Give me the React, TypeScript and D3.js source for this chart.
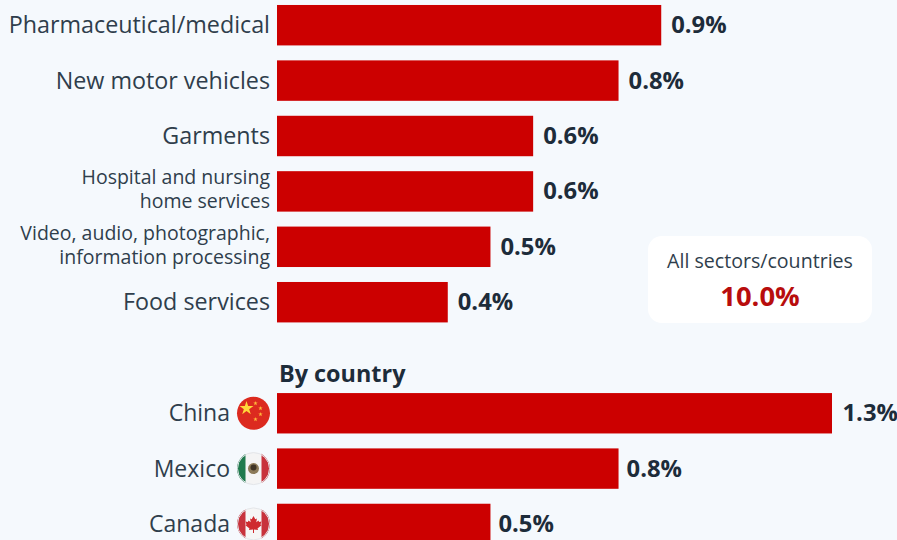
import React from "react";
import * as d3 from "d3";

const width = 897;
const height = 540;

const sectorNames = [
  ["Pharmaceutical/medical"],
  ["New motor vehicles"],
  ["Garments"],
  ["Hospital and nursing", "home services"],
  ["Video, audio, photographic,", "information processing"],
  ["Food services"],
];
const sectorValues = [0.9, 0.8, 0.6, 0.6, 0.5, 0.4];

const countryNames = ["China", "Mexico", "Canada"];
const countryValues = [1.3, 0.8, 0.5];
const countryLabelGaps = [10.5, 8, 8];

const totalLabel = "All sectors/countries";
const totalValue = 10.0;

const RED = "#cc0000";
const DARK = "#1d2c3a";
const TEXT = "#2f3e4c";
const FONT = "'Open Sans', sans-serif";

// Maple leaf outline, centred on the origin.
const MAPLE_LEAF =
  "M0,-8 L1.8,-4.6 L3.4,-5.4 L2.8,-1.6 L5,-3.4 L5.6,-2 L8,-2.4 L7,0.6 L8,1.4 L4,4.6 L4.6,6 L0.5,5.6 L0.5,9 L-0.5,9 L-0.5,5.6 L-4.6,6 L-4,4.6 L-8,1.4 L-7,0.6 L-8,-2.4 L-5.6,-2 L-5,-3.4 L-2.8,-1.6 L-3.4,-5.4 L-1.8,-4.6 Z";

const x = d3.scaleLinear().domain([0, 1.3]).range([277, 832]);
const sectorY = d3
  .scaleBand<number>()
  .domain(d3.range(sectorValues.length))
  .range([-2.5, 329.9])
  .paddingInner(0.27)
  .paddingOuter(0.135);
const countryY = d3
  .scaleBand<number>()
  .domain(d3.range(countryValues.length))
  .range([385.6, 551.6])
  .paddingInner(0.27)
  .paddingOuter(0.135);

const pct = (v: number) => `${v.toFixed(1)}%`;

function FlagChina({ cx, cy }: { cx: number; cy: number }) {
  const star = d3.symbol().type(d3.symbolStar);
  return (
    <g transform={`translate(${cx},${cy})`}>
      <circle r={16.5} fill="#dc2a1f" />
      <path d={star.size(60)() ?? ""} transform="translate(-7,-5)" fill="#ffd83a" />
      {[
        [2, -10],
        [7, -5],
        [7, 1],
        [2, 6],
      ].map(([a, b], i) => (
        <path key={i} d={star.size(6)() ?? ""} transform={`translate(${a},${b})`} fill="#ffb83a" />
      ))}
    </g>
  );
}

function FlagMexico({ cx, cy, clip }: { cx: number; cy: number; clip: string }) {
  return (
    <g transform={`translate(${cx},${cy})`}>
      <clipPath id={clip}>
        <circle r={16.5} />
      </clipPath>
      <g clipPath={`url(#${clip})`}>
        <rect x={-17} y={-17} width={34} height={34} fill="#f4f4f4" />
        <rect x={-17} y={-17} width={9} height={34} fill="#1f7a4d" />
        <rect x={8} y={-17} width={9} height={34} fill="#c8323c" />
        <circle r={5.5} fill="#8c7a58" />
        <circle cy={-1} r={3} fill="#3f3426" />
      </g>
      <circle r={16} fill="none" stroke="#e3e6ea" />
    </g>
  );
}

function FlagCanada({ cx, cy, clip }: { cx: number; cy: number; clip: string }) {
  return (
    <g transform={`translate(${cx},${cy})`}>
      <clipPath id={clip}>
        <circle r={16.5} />
      </clipPath>
      <g clipPath={`url(#${clip})`}>
        <rect x={-17} y={-17} width={34} height={34} fill="#f6f6f6" />
        <rect x={-17} y={-17} width={9} height={34} fill="#c8323c" />
        <rect x={8} y={-17} width={9} height={34} fill="#c8323c" />
        <path d={MAPLE_LEAF} fill="#cf2a2f" />
      </g>
      <circle r={16} fill="none" stroke="#e3e6ea" />
    </g>
  );
}

export default function App() {
  return (
    <svg
      width={width}
      height={height}
      viewBox={`0 0 ${width} ${height}`}
      style={{ position: "fixed", left: 0, top: 0, background: "#f5f9fd", fontFamily: FONT }}
    >
      <rect width={width} height={height} fill="#f5f9fd" />

      {sectorValues.map((v, i) => {
        const top = sectorY(i) ?? 0;
        const mid = top + sectorY.bandwidth() / 2;
        const lines = sectorNames[i];
        return (
          <g key={lines[0]}>
            <rect x={x(0)} y={top} width={x(v) - x(0)} height={sectorY.bandwidth()} fill={RED} />
            {lines.length === 1 ? (
              <text x={270} y={mid + 8} textAnchor="end" fontSize={23.3} fill={TEXT}>
                {lines[0]}
              </text>
            ) : (
              lines.map((l, k) => (
                <text key={l} x={270} y={mid - 7 + k * 24} textAnchor="end" fontSize={19.5} fill={TEXT}>
                  {l}
                </text>
              ))
            )}
            <text x={x(v) + 10} y={mid + 8} fontSize={23.8} fontWeight={700} fill={DARK}>
              {pct(v)}
            </text>
          </g>
        );
      })}

      <text x={279} y={382} fontSize={23.4} fontWeight={700} fill={DARK}>
        By country
      </text>

      {countryValues.map((v, i) => {
        const top = countryY(i) ?? 0;
        const mid = top + countryY.bandwidth() / 2;
        return (
          <g key={countryNames[i]}>
            <rect x={x(0)} y={top} width={x(v) - x(0)} height={countryY.bandwidth()} fill={RED} />
            <text x={230} y={mid + 8} textAnchor="end" fontSize={23} fill={TEXT}>
              {countryNames[i]}
            </text>
            <text x={x(v) + countryLabelGaps[i]} y={mid + 8} fontSize={23.8} fontWeight={700} fill={DARK}>
              {pct(v)}
            </text>
          </g>
        );
      })}

      <FlagChina cx={253.5} cy={(countryY(0) ?? 0) + countryY.bandwidth() / 2} />
      <FlagMexico cx={253.5} cy={(countryY(1) ?? 0) + countryY.bandwidth() / 2} clip="clip-mx" />
      <FlagCanada cx={253.5} cy={(countryY(2) ?? 0) + countryY.bandwidth() / 2} clip="clip-ca" />

      <rect x={648} y={236} width={224} height={87} rx={14} fill="#ffffff" />
      <text x={760} y={268} textAnchor="middle" fontSize={19.6} fill={TEXT}>
        {totalLabel}
      </text>
      <text x={760} y={306} textAnchor="middle" fontSize={27.4} fontWeight={700} fill="#b80d0d">
        {pct(totalValue)}
      </text>
    </svg>
  );
}
